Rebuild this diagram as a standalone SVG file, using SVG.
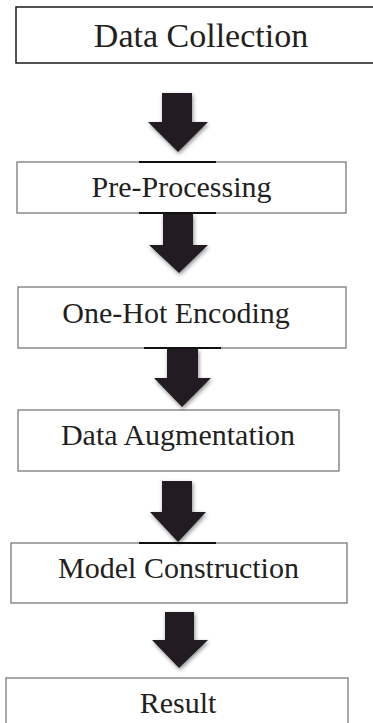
<svg xmlns="http://www.w3.org/2000/svg" width="373" height="723" viewBox="0 0 373 723">
<defs>
<filter id="sh" x="-30%" y="-30%" width="160%" height="160%">
<feGaussianBlur in="SourceAlpha" stdDeviation="2.2"/>
<feOffset dx="1" dy="2" result="b"/>
<feComponentTransfer><feFuncA type="linear" slope="0.45"/></feComponentTransfer>
<feMerge><feMergeNode/><feMergeNode in="SourceGraphic"/></feMerge>
</filter>
</defs>
<style>
.box{fill:#fff;stroke:#7a7a7a;stroke-width:1.3}
.box1{fill:#fff;stroke:#1a1a1a;stroke-width:1.5}
.lbl{font-family:"Liberation Serif","Times New Roman",serif;font-size:30px;fill:#231f20;text-anchor:middle}
.arrow{fill:#231f20;filter:url(#sh)}
.bar{stroke:#111;stroke-width:2.2}
</style>
<rect width="373" height="723" fill="#fff"/>
<g id="n1"><rect class="box1" x="16" y="7" width="370" height="56"/><text class="lbl" x="201" y="47" style="font-size:34px">Data Collection</text></g>
<g id="n2"><rect class="box" x="17" y="162" width="329" height="51"/><text class="lbl" x="181.5" y="197">Pre-Processing</text></g>
<g id="n3"><rect class="box" x="18" y="287" width="328" height="61"/><text class="lbl" x="176" y="323">One-Hot Encoding</text></g>
<g id="n4"><rect class="box" x="18" y="410" width="321" height="61"/><text class="lbl" x="178" y="445">Data Augmentation</text></g>
<g id="n5"><rect class="box" x="11" y="543" width="336" height="60"/><text class="lbl" x="178.5" y="578">Model Construction</text></g>
<g id="n6"><rect class="box" x="6" y="678" width="342" height="60"/><text class="lbl" x="178" y="713">Result</text></g>
<g id="connectors">
<path class="arrow" d="M162 93H192V122H208L178 152L148 122H162Z"/>
<path class="arrow" d="M163 214H193V245H208L179 273L149 245H163Z"/>
<path class="arrow" d="M167 349H198V378H211L182 407L154 378H167Z"/>
<path class="arrow" d="M162 481H192V512H206L178 542L150 512H162Z"/>
<path class="arrow" d="M165 612H194V640H208L179 668L152 640H165Z"/>
<line class="bar" x1="139" y1="162" x2="216" y2="162"/>
<line class="bar" x1="139" y1="213" x2="216" y2="213"/>
<line class="bar" x1="144" y1="348" x2="221" y2="348"/>
<line class="bar" x1="139" y1="543" x2="216" y2="543"/>
</g>
</svg>
